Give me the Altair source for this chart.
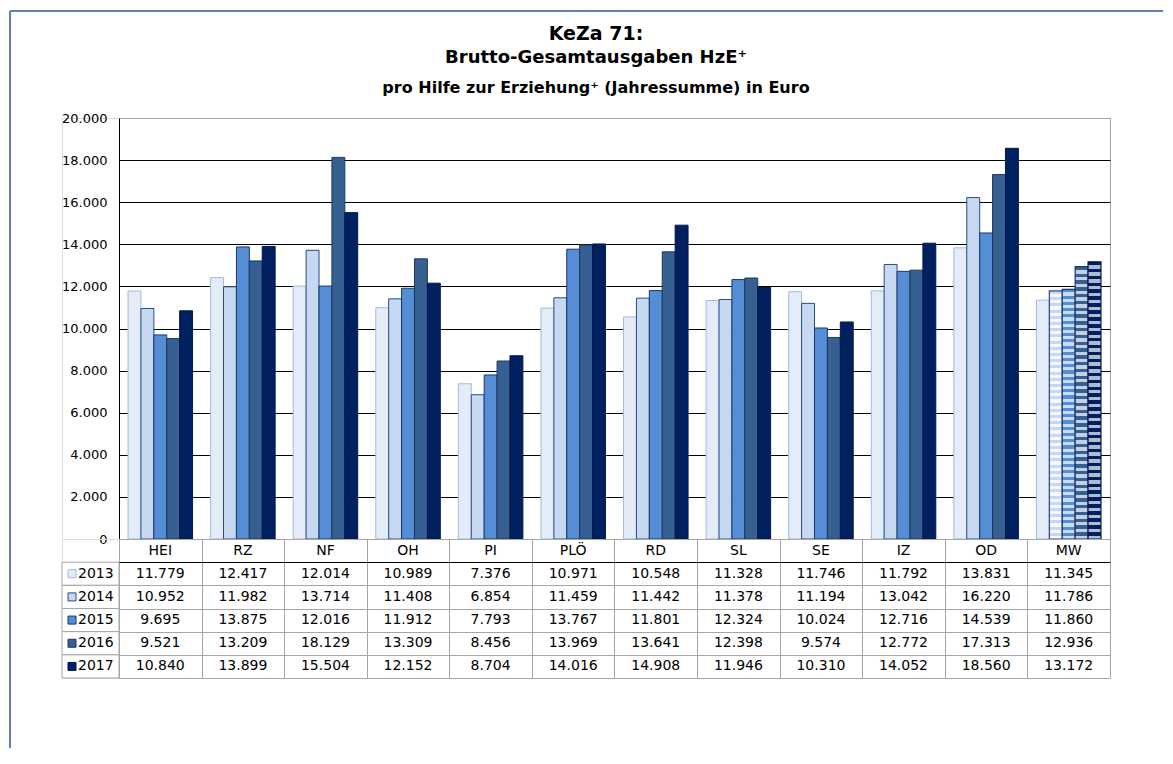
import altair as alt
import pandas as pd

# ---------------- data ----------------
categories = ["HEI", "RZ", "NF", "OH", "PI", "PLÖ", "RD", "SL", "SE", "IZ", "OD", "MW"]
years = ["2013", "2014", "2015", "2016", "2017"]
v2013 = [11779, 12417, 12014, 10989, 7376, 10971, 10548, 11328, 11746, 11792, 13831, 11345]
v2014 = [10952, 11982, 13714, 11408, 6854, 11459, 11442, 11378, 11194, 13042, 16220, 11786]
v2015 = [9695, 13875, 12016, 11912, 7793, 13767, 11801, 12324, 10024, 12716, 14539, 11860]
v2016 = [9521, 13209, 18129, 13309, 8456, 13969, 13641, 12398, 9574, 12772, 17313, 12936]
v2017 = [10840, 13899, 15504, 12152, 8704, 14016, 14908, 11946, 10310, 14052, 18560, 13172]
title_lines = ["KeZa 71:", "Brutto-Gesamtausgaben HzE⁺"]
subtitle = "pro Hilfe zur Erziehung⁺ (Jahressumme) in Euro"
y_ticks = [0, 2000, 4000, 6000, 8000, 10000, 12000, 14000, 16000, 18000, 20000]
header_key = "hdr"
mean_cat = "MW"
patterned_years = ["2014", "2015", "2016", "2017"]

series = dict(zip(years, [v2013, v2014, v2015, v2016, v2017]))


def de_fmt(v):
    return f"{v:,}".replace(",", ".")


records = []
for yr, vals in series.items():
    for c, v in zip(categories, vals):
        records.append({"cat": c, "year": yr, "value": v})
df = pd.DataFrame(records)

trecs = [{"cat": c, "row": header_key, "label": c} for c in categories]
for yr, vals in series.items():
    for c, v in zip(categories, vals):
        trecs.append({"cat": c, "row": yr, "label": de_fmt(v)})
tdf = pd.DataFrame(trecs)
row_order = [header_key] + years
ldf = pd.DataFrame({"row": years, "year": years})
one = pd.DataFrame({"k": [0]})

# ---------------- style ----------------
FONT = "DejaVu Sans"
W, H = 991, 421
TH = 139
LW = 57
GRID_T = "#a6a6a6"
FRAME = "#6580b0"

fill_range = ["#e4ecf8", "#c6d9f1", "#558ed5", "#376092", "#002060"]
stroke_range = ["#9fbbe2", "#2a4a85", "#17376e", "#1d375d", "#00184a"]
dot_tint = {"2014": "#f4f8fd", "2015": "#c9dcf4", "2016": "#c3cfe2", "2017": "#aebbd3"}
fill_scale = alt.Scale(domain=years, range=fill_range)
stroke_scale = alt.Scale(domain=years, range=stroke_range)

x_enc = alt.X("cat:N", sort=categories,
              scale=alt.Scale(domain=categories, paddingInner=0, paddingOuter=0),
              axis=None)
xo_enc = alt.XOffset("year:N", sort=years,
                     scale=alt.Scale(domain=years, paddingInner=0, paddingOuter=0.7))
y_enc = alt.Y("value:Q", scale=alt.Scale(domain=[0, 20000], nice=False),
              axis=alt.Axis(values=y_ticks, title=None, grid=True,
                            gridColor=alt.condition("datum.value == 20000",
                                                    alt.value(GRID_T), alt.value("black")),
                            gridWidth=1, domain=True, domainColor="black",
                            ticks=False, labelPadding=12, labelFont=FONT,
                            labelFontSize=13, labelColor="black",
                            labelExpr="replace(format(datum.value, ','), ',', '.')"))

plain = df[~((df["cat"] == mean_cat) & (df["year"].isin(patterned_years)))]
bars = alt.Chart(plain).mark_bar(strokeWidth=1).encode(
    x=x_enc, xOffset=xo_enc, y=y_enc,
    fill=alt.Fill("year:N", scale=fill_scale, legend=None),
    stroke=alt.Stroke("year:N", scale=stroke_scale, legend=None),
)

# patterned (dotted-look) bars of the mean column
n_stripes = 40
pattern_layers = []
for i, yr in enumerate(years):
    if yr not in patterned_years:
        continue
    base_c = fill_range[i]
    tint = dot_tint[yr]
    stops = []
    for k in range(n_stripes):
        a = k / n_stripes
        m = (k + 0.5) / n_stripes
        b = (k + 1) / n_stripes
        stops += [alt.GradientStop(offset=a, color=base_c),
                  alt.GradientStop(offset=m, color=base_c),
                  alt.GradientStop(offset=m, color=tint),
                  alt.GradientStop(offset=b, color=tint)]
    grad = alt.LinearGradient(gradient="linear", stops=stops, x1=0, x2=0, y1=0, y2=1)
    sub = df[(df["cat"] == mean_cat) & (df["year"] == yr)]
    pattern_layers.append(
        alt.Chart(sub).mark_bar(fill=grad, stroke=stroke_range[i], strokeWidth=1.2).encode(
            x=x_enc, xOffset=xo_enc, y=alt.Y("value:Q")))

frame_left = alt.Chart(one).mark_rule(color=FRAME, strokeWidth=2).encode(
    x=alt.value(-109), y=alt.value(-107), y2=alt.value(630))
frame_top = alt.Chart(one).mark_rule(color=FRAME, strokeWidth=2).encode(
    x=alt.value(-109), x2=alt.value(1044), y=alt.value(-107))

t1 = alt.Chart(one).mark_text(font=FONT, fontSize=19, fontWeight="bold",
                              color="black", baseline="middle").encode(
    x=alt.value(477), y=alt.value(-84), text=alt.value(title_lines[0]))
t2 = alt.Chart(one).mark_text(font=FONT, fontSize=18, fontWeight="bold",
                              color="black", baseline="middle").encode(
    x=alt.value(477), y=alt.value(-60), text=alt.value(title_lines[1]))
t3 = alt.Chart(one).mark_text(font=FONT, fontSize=16, fontWeight="bold",
                              color="black", baseline="middle").encode(
    x=alt.value(477), y=alt.value(-30), text=alt.value(subtitle))

top = alt.layer(bars, *pattern_layers, frame_left, frame_top, t1, t2, t3).properties(
    width=W, height=H,
    view=alt.ViewBackground(stroke=GRID_T, strokeWidth=1))

# ---------------- data table ----------------
table = alt.Chart(tdf).mark_text(font=FONT, fontSize=14, color="black",
                                 baseline="middle").encode(
    x=alt.X("cat:N", sort=categories,
            scale=alt.Scale(domain=categories, paddingInner=0, paddingOuter=0),
            axis=alt.Axis(grid=True, tickBand="extent", labels=False, ticks=False,
                          domain=False, title=None, gridColor=GRID_T, gridWidth=1)),
    y=alt.Y("row:N", sort=row_order,
            scale=alt.Scale(domain=row_order, paddingInner=0, paddingOuter=0),
            axis=alt.Axis(grid=True, tickBand="extent", labels=False, ticks=False,
                          domain=False, title=None, gridWidth=1,
                          gridColor=alt.condition("datum.value == 'hdr'",
                                                  alt.value("black"), alt.value(GRID_T)))),
    text="label:N",
).properties(width=W, height=TH)

# ---------------- legend column ----------------
ly = alt.Y("row:N", scale=alt.Scale(domain=row_order, paddingInner=0, paddingOuter=0),
           axis=None)
leg_rect = alt.Chart(ldf).mark_rect(fill="white", stroke=GRID_T, strokeWidth=1).encode(
    y=ly, x=alt.value(0), x2=alt.value(LW))
leg_sq = alt.Chart(ldf).mark_square(size=64, opacity=1, filled=True, strokeWidth=1).encode(
    y=ly, x=alt.value(10),
    fill=alt.Fill("year:N", scale=fill_scale, legend=None),
    stroke=alt.Stroke("year:N", scale=stroke_scale, legend=None))
leg_txt = alt.Chart(ldf).mark_text(align="left", baseline="middle", font=FONT,
                                   fontSize=14, color="black").encode(
    y=ly, x=alt.value(16), text="row:N")
legend_tbl = alt.layer(leg_rect, leg_sq, leg_txt).properties(width=LW, height=TH)

spacer = alt.Chart(one).mark_point(opacity=0).encode(
    x=alt.value(0), y=alt.value(0)).properties(width=LW, height=H)

chart = alt.concat(spacer, top, legend_tbl, table, columns=2, spacing=0,
                   bounds="flush", align="each").properties(
    padding={"left": 0, "top": 1, "right": 0, "bottom": 0}
).configure_view(stroke="transparent").configure(font=FONT)

chart.save("out.html", embed_options={"renderer": "svg", "actions": False})
